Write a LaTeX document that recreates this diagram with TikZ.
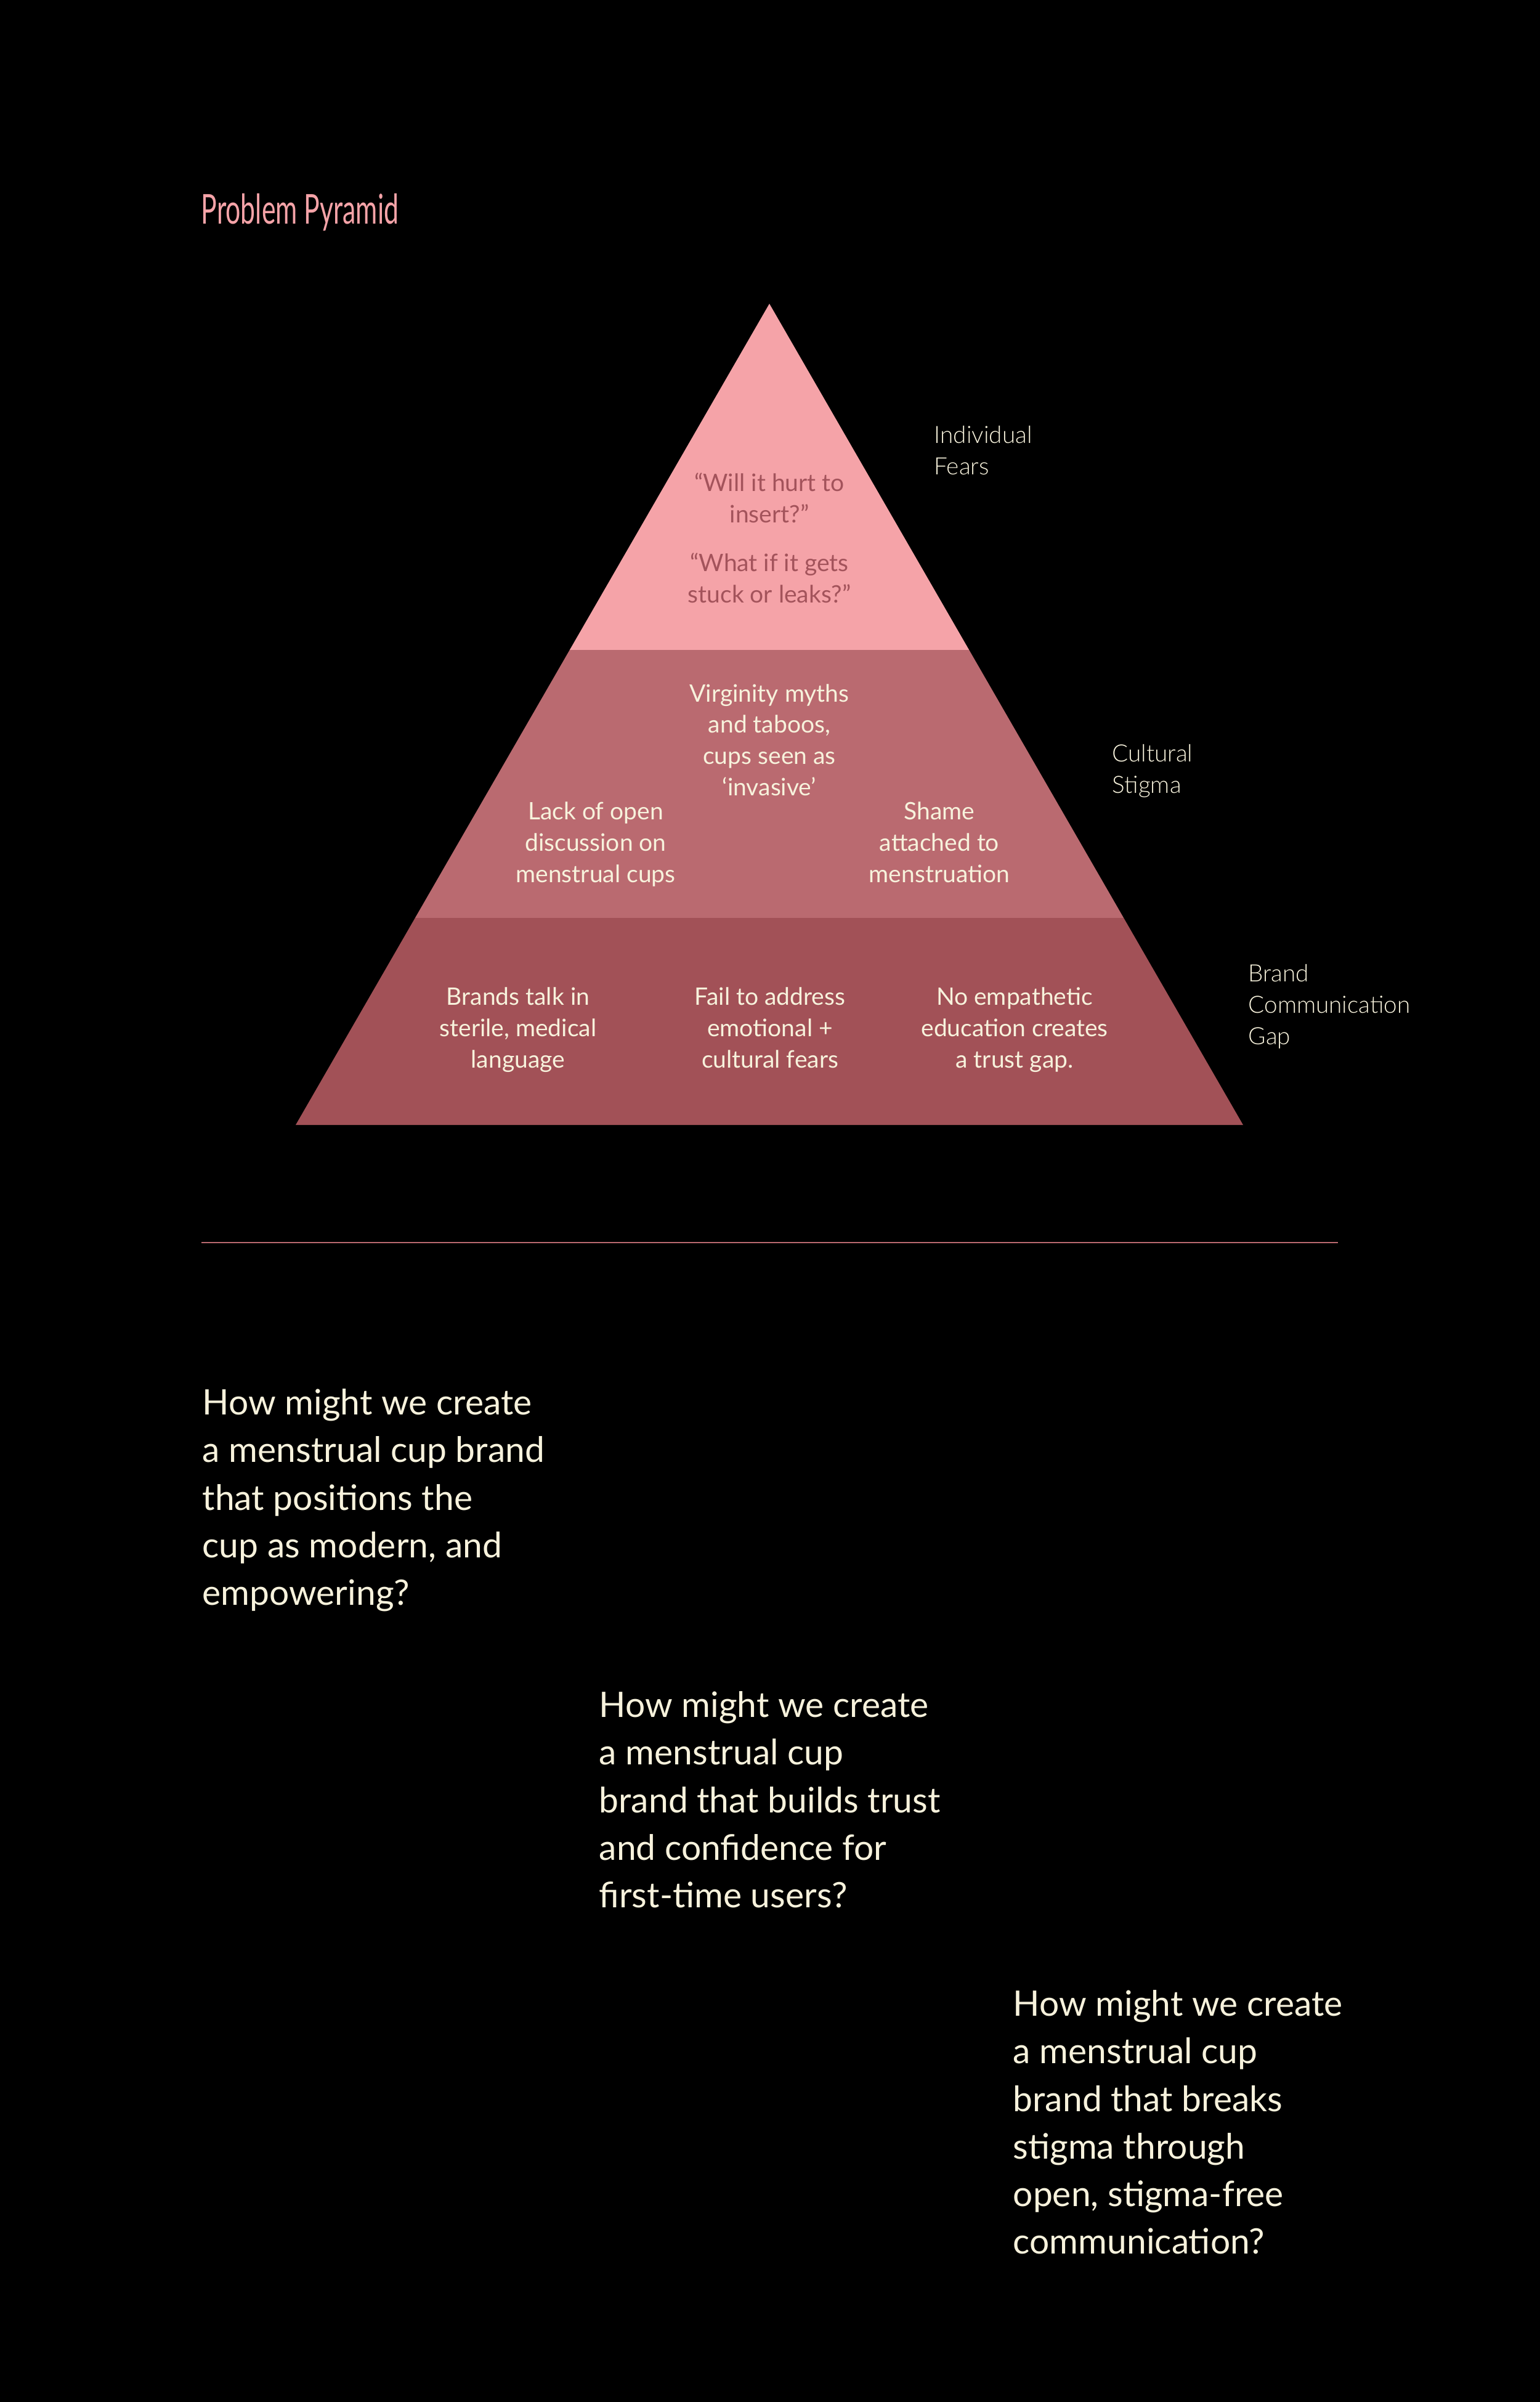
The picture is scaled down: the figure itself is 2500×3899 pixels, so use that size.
\documentclass[tikz,border=0pt]{standalone}
\usepackage{fontspec}
\setmainfont{Lato}
\newfontfamily\lightfont{Lato Light}
\newfontfamily\titlefont[FakeStretch=0.64]{Lato}
\usetikzlibrary{calc}
\definecolor{tierlight}{HTML}{F5A3A8}
\definecolor{tiermid}{HTML}{BA6A70}
\definecolor{tierdark}{HTML}{A25157}
\definecolor{fearsrose}{HTML}{A3535B}
\definecolor{cream}{HTML}{F7F2DC}

\begin{document}
\begin{tikzpicture}[
      x=0.01cm, y=-0.01cm,
      tiertext/.style={inner sep=0pt, anchor=base, align=center, text=cream, font=\fontsize{11.1}{14.4}\selectfont},
      fearstext/.style={tiertext, text=fearsrose},
      sidelabel/.style={inner sep=0pt, anchor=base west, align=left, text=cream, font=\lightfont\fontsize{11}{14.5}\selectfont},
      question/.style={inner sep=0pt, anchor=base west, align=left, text=cream, font=\fontsize{16.2}{21.9}\selectfont},
    ]
    \fill[black] (0,0) rectangle (2500,3899);

    \node[inner sep=0pt, anchor=base west, text=tierlight, font=\titlefont\fontsize{19}{22}\selectfont] (title) at (326,363) {Problem Pyramid};

    % pyramid (text nodes sit on the baseline of their last line)
    \coordinate (apex) at (1249,493);
    \coordinate (baseL) at (480,1826);
    \coordinate (baseR) at (2018,1826);
    \coordinate (t1L) at ($(apex)!0.4216!(baseL)$);
    \coordinate (t1R) at ($(apex)!0.4216!(baseR)$);
    \coordinate (t2L) at ($(apex)!0.748!(baseL)$);
    \coordinate (t2R) at ($(apex)!0.748!(baseR)$);
    \fill[tierlight] (apex) -- (t1R) -- (t1L) -- cycle;
    \fill[tiermid] (t1L) -- (t1R) -- (t2R) -- (t2L) -- cycle;
    \fill[tierdark] (t2L) -- (t2R) -- (baseR) -- (baseL) -- cycle;

    \node[fearstext] (fears) at (1249,978) {“Will it hurt to\\insert?”\\[8pt]“What if it gets\\stuck or leaks?”};

    \node[tiertext] (myths) at (1249,1291) {Virginity myths\\and taboos,\\cups seen as\\‘invasive’};
    \node[tiertext] (discussion) at (967,1432) {Lack of open\\discussion on\\menstrual cups};
    \node[tiertext] (shame) at (1525,1432) {Shame\\attached to\\menstruation};

    \node[tiertext] (sterile) at (841,1733) {Brands talk in\\sterile, medical\\language};
    \node[tiertext] (address) at (1250,1733) {Fail to address\\emotional +\\cultural fears};
    \node[tiertext] (empathy) at (1647,1733) {No empathetic\\education creates\\a trust gap.};

    % tier labels
    \node[sidelabel] (lblfears) at (1516,770) {Individual\\Fears};
    \node[sidelabel] (lblstigma) at (1805,1287) {Cultural\\Stigma};
    \node[sidelabel] (lblgap) at (2026,1695) {Brand\\Communication\\Gap};

    \coordinate (ruleL) at (327,2017);
    \coordinate (ruleR) at (2172,2017);
    \draw[tiermid, line width=0.57pt] (ruleL) -- (ruleR);

    % how might we
    \node[question] (hmw1) at (328,2605) {How might we create\\a menstrual cup brand\\that positions the\\cup as modern, and\\empowering?};
    \node[question] (hmw2) at (972,3096) {How might we create\\a menstrual cup\\brand that builds trust\\and confidence for\\first-time users?};
    \node[question] (hmw3) at (1644,3658) {How might we create\\a menstrual cup\\brand that breaks\\stigma through\\open, stigma-free\\communication?};
  \end{tikzpicture}
\end{document}
